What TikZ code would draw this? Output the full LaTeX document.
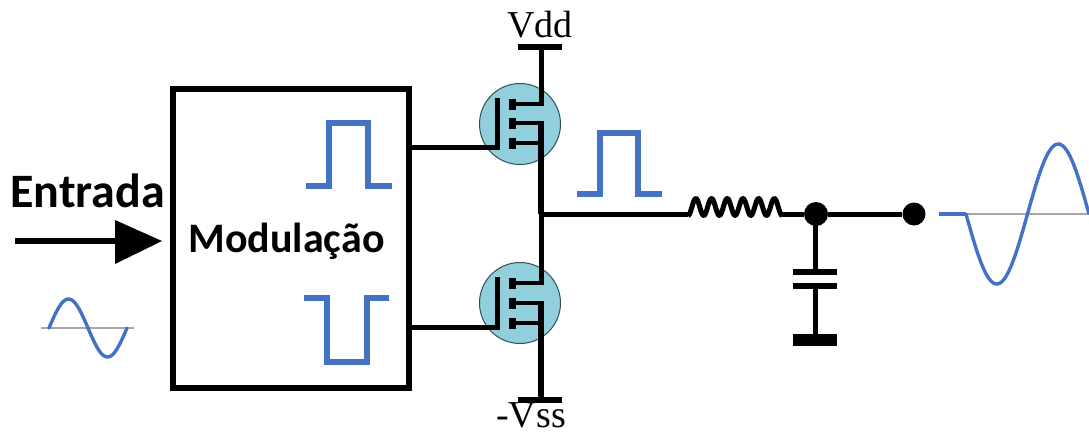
\documentclass[tikz,border=0pt]{standalone}
\usepackage{fontspec}
\setmainfont{Liberation Serif}
\newfontfamily\labelfont{Carlito}[BoldFont={Carlito Bold}]
\definecolor{pulseblue}{HTML}{4472C4}
\definecolor{axisgray}{HTML}{A6A6A6}
\definecolor{fetfill}{HTML}{92CFDC}
\definecolor{fetedge}{HTML}{2F4F57}
\tikzset{
  wire/.style={line width=5pt,black},
  thinwire/.style={line width=3.4pt,black},
  plate/.style={line width=6pt,black},
  pulse/.style={line width=6pt,pulseblue,miter limit=10},
  wave/.style={line width=3.4pt,pulseblue,line cap=round},
  axisline/.style={line width=2pt,axisgray},
  fet/.style={circle,draw=fetedge,fill=fetfill,line width=1pt,minimum size=81pt,inner sep=0pt},
  junction/.style={circle,fill=black,inner sep=0pt,minimum size=#1},
  boldlabel/.style={font=\labelfont\bfseries\fontsize{#1}{#1}\selectfont,inner sep=0pt,anchor=base},
  rail/.style={font=\fontsize{#1}{#1}\selectfont,inner sep=0pt,anchor=base},
  block/.style={draw=black,line width=5.5pt,fill=white,inner sep=0pt},
  tip/.style={fill=black,draw=none},
  gatebar/.style={fill=black,draw=none,minimum width=7pt,minimum height=11pt,inner sep=0pt}
}
\begin{document}
\begin{tikzpicture}[x=1pt,y=-1pt]
\useasboundingbox (0,0) rectangle (1089,432);
\fill[white] (0,0) rectangle (1089,432);

% Modulator block
\node[block,minimum width=236pt,minimum height=299pt] (mod) at (291,238.5) {};
\node[boldlabel=42] (modt) at (286.5,252) {Modulação};

% Input
\node[boldlabel=48] (ent) at (87.5,207) {Entrada};
\coordinate (inS) at (15,241);
\coordinate (inB) at (116,241);
\coordinate (inT) at (162,241);
\draw[line width=6pt] (inS) -- (inB);
\fill[tip] (inT) -- (115,220) -- (115,264) -- cycle;

% Small input sine
\draw[axisline] (41,328) -- (134,328);
\draw[wave,domain=0:1,samples=60,smooth,variable=\t] plot ({49+78*\t},{328-29*sin(360*\t)});

% Pulses in the block
\draw[pulse] (306,186) -- (329,186) -- (329,123) -- (368,123) -- (368,186) -- (392,186);
\draw[pulse] (304,298) -- (327,298) -- (327,362) -- (367,362) -- (367,298) -- (389,298);

% MOSFETs
\node[fet] (q1) at (520,124) {};
\node[fet] (q2) at (520,303) {};

% Rails
\coordinate (vddB) at (541,47);
\coordinate (vssB) at (541,400);
\coordinate (out) at (541,214);
\coordinate (q1d) at (541,106);
\coordinate (q1s) at (541,122);
\coordinate (q2d) at (541,285);
\coordinate (q2s) at (541,302);
\draw[plate] (518,47) -- (562,47);
\draw[plate] (518,400) -- (562,400);
\node[rail=38] (vdd) at (540,37) {Vdd};
\node[rail=38] (vss) at (531,427) {-Vss};
\draw[wire] (vddB) -- (q1d);
\draw[plate] (q1s) -- (out);
\draw[wire] (out) -- (q2d);
\draw[plate] (q2s) -- (vssB);

% Q1 internals
\draw[wire] (497,98) -- (497,149.5);
\node[gatebar] (q1a) at (512,104) {};
\node[gatebar] (q1b) at (512,123) {};
\node[gatebar] (q1c) at (512,143) {};
\draw[thinwire] (q1a.center) -- (543.5,104);
\draw[thinwire] (q1b.center) -- (544,123);
\draw[thinwire] (q1c.center) -- (541,143);

% Q2 internals
\draw[wire] (497,277) -- (497,330);
\node[gatebar] (q2a) at (512,283) {};
\node[gatebar] (q2b) at (512,303) {};
\node[gatebar] (q2c) at (512,323) {};
\draw[thinwire] (q2a.center) -- (543.5,283);
\draw[thinwire] (q2b.center) -- (544,303);
\draw[thinwire] (q2c.center) -- (541,323);

% Gate leads
\draw[wire] (412,147) -- (499.5,147);
\draw[wire] (412,327) -- (499.5,327);

% Output pulse
\draw[pulse] (577,194) -- (600,194) -- (600,133) -- (638,133) -- (638,194) -- (662,194);

% Output filter
\coordinate (l1) at (688,214);
\coordinate (l2) at (782,214);
\node[junction=24pt] (j) at (816,214) {};
\node[junction=23pt] (o) at (914,214) {};
\draw[wire] (out) -- (l1);
\draw[wire,line join=round,domain=0:6,samples=120,variable=\t] plot ({688+15.7*\t},{207+8.5*cos(360*\t)});
\draw[wire] (l2) -- (j);
\draw[wire] (j) -- (o);
\coordinate (c1) at (815,272);
\coordinate (c2) at (815,286);
\coordinate (g) at (815,340);
\draw[wire] (815,214) -- (c1);
\draw[wire] (c2) -- (g);
\draw[plate] (793,272) -- (837,272);
\draw[plate] (793,286) -- (837,286);
\draw[line width=12pt] (793,340) -- (837,340);

% Output sine
\draw[axisline] (966,214) -- (1089,214);
\draw[line width=3.5pt,pulseblue] (939,214) -- (966,214);
\draw[wave,domain=0:1,samples=100,smooth,variable=\t] plot ({966+123*\t},{214+70*sin(360*\t)});
\end{tikzpicture}
\end{document}
